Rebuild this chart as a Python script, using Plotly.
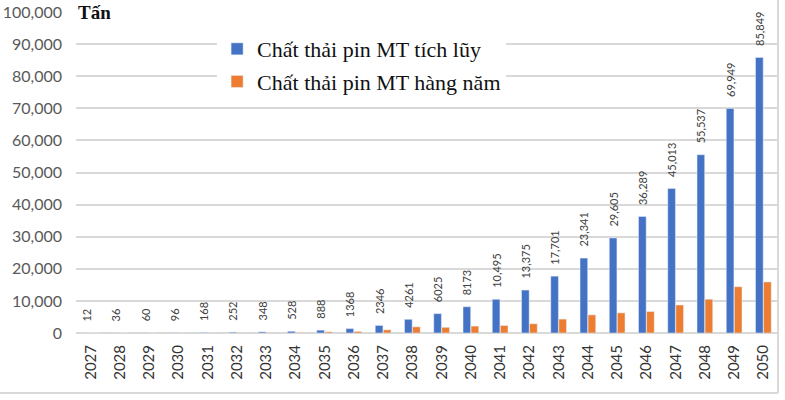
import plotly.graph_objects as go

# Dữ liệu chất thải pin mặt trời (tấn)
years = [str(y) for y in range(2027, 2051)]
cumulative = [12, 36, 60, 96, 168, 252, 348, 528, 888, 1368, 2346, 4261,
              6025, 8173, 10495, 13375, 17701, 23341, 29605, 36289, 45013,
              55537, 69949, 85849]
annual = [12, 24, 24, 36, 72, 84, 96, 180, 360, 480, 978, 1915,
          1764, 2148, 2322, 2880, 4326, 5640, 6264, 6684, 8724,
          10524, 14412, 15900]
cum_labels = ["12", "36", "60", "96", "168", "252", "348", "528", "888", "1368",
              "2346", "4261", "6025", "8173", "10,495", "13,375", "17,701",
              "23,341", "29,605", "36,289", "45,013", "55,537", "69,949", "85,849"]
y_ticks = list(range(0, 100001, 10000))

fig = go.Figure()

fig.add_trace(go.Bar(
    x=years, y=cumulative, name="Chất thải pin MT tích lũy",
    legendgroup="a", marker_color="#4472C4",
    text=["\u00a0\u00a0\u00a0" + t for t in cum_labels],
    textposition="outside", textangle=-90,
    textfont=dict(size=11, color="#404040"), cliponaxis=False,
))
fig.add_trace(go.Bar(
    x=years, y=annual, name="Chất thải pin MT hàng năm",
    legendgroup="b", marker_color="#ED7D31",
))

fig.update_layout(
    width=785, height=400,
    margin=dict(l=76, r=7, t=12, b=67),
    plot_bgcolor="white", paper_bgcolor="white",
    barmode="group", bargap=0.45, bargroupgap=0.05,
    font=dict(family="Lato, Open Sans, sans-serif"),
    legend=dict(
        x=0.201, y=0.95, xanchor="left", yanchor="top",
        bgcolor="white", tracegroupgap=1,
        font=dict(family="Liberation Serif, Times New Roman, serif", size=22, color="#111111"),
    ),
    uniformtext=dict(minsize=11, mode="show"),
)

fig.update_xaxes(
    type="category", tickangle=-90, automargin=False,
    tickfont=dict(size=15, color="#333333"),
    showline=False, ticks="", ticklabelstandoff=8,
)
fig.update_yaxes(
    range=[0, 100000], tickvals=y_ticks, tickformat=",", automargin=False,
    tickfont=dict(size=16, color="#595959"), ticklabeloverflow="allow",
    showgrid=True, gridcolor="#D9D9D9", gridwidth=1.5,
    zeroline=True, zerolinecolor="#D9D9D9", zerolinewidth=1.5,
    ticks="", ticklabelstandoff=13,
)

fig.add_annotation(
    text="<b>Tấn</b>", xref="paper", yref="paper", x=0.0, y=1.037,
    xanchor="left", yanchor="top", showarrow=False,
    font=dict(family="Liberation Serif, Times New Roman, serif", size=19, color="#111111"),
)

# Khung biểu đồ (cạnh phải và cạnh dưới)
fig.add_shape(type="line", xref="paper", yref="paper", x0=1.0, x1=1.0, y0=-0.187, y1=1.04,
              line=dict(color="#D9D9D9", width=2))
fig.add_shape(type="line", xref="paper", yref="paper", x0=-0.12, x1=1.0, y0=-0.187, y1=-0.187,
              line=dict(color="#D9D9D9", width=2))

# bỏ lề mặc định của trang để hình nằm sát góc
fig.write_html("out.html", config={"displayModeBar": False},
               post_script="document.body.style.margin='0';")
